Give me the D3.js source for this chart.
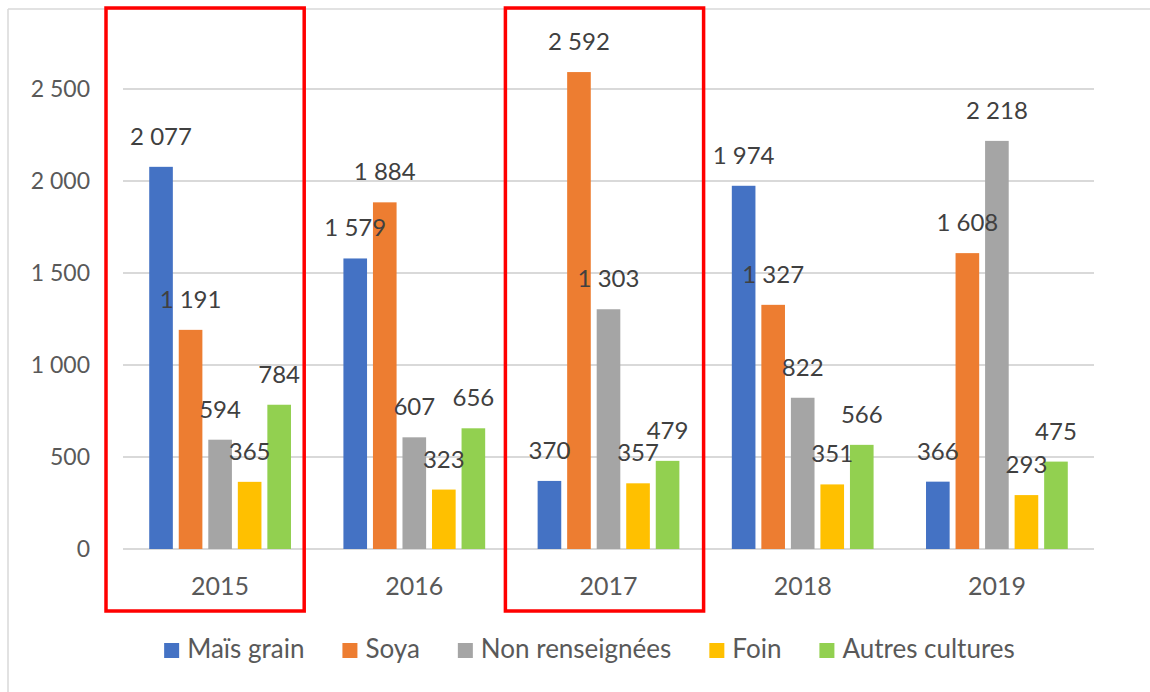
<!DOCTYPE html>
<html lang="fr">
<head>
<meta charset="utf-8">
<script src="https://cdn.jsdelivr.net/npm/d3@7"></script>
<style>
  html, body { margin: 0; padding: 0; background: #ffffff; }
  svg { display: block; font-family: Lato, "Open Sans", "Liberation Sans", sans-serif; }
</style>
</head>
<body>
<svg id="chart" width="1150" height="692"></svg>
<script>
// Superficies par culture et par année
const years = ["2015", "2016", "2017", "2018", "2019"];
const series = ["Maïs grain", "Soya", "Non renseignées", "Foin", "Autres cultures"];
const colors = ["#4472c4", "#ed7d31", "#a5a5a5", "#ffc000", "#92d050"];
const maisGrain = [2077, 1579, 370, 1974, 366];
const soya = [1191, 1884, 2592, 1327, 1608];
const nonRenseignees = [594, 607, 1303, 822, 2218];
const foin = [365, 323, 357, 351, 293];
const autresCultures = [784, 656, 479, 566, 475];
const yTicks = [0, 500, 1000, 1500, 2000, 2500];
const highlightedYears = ["2015", "2017"];

const values = [maisGrain, soya, nonRenseignees, foin, autresCultures];
const rows = [];
years.forEach((yr, i) => {
  series.forEach((s, j) => rows.push({ year: yr, series: s, value: values[j][i], color: colors[j] }));
});

const svg = d3.select("#chart");
const W = 1150, H = 692;
const plot = { left: 123, right: 1094, top: 89, bottom: 549 };

// outer frame (top and left edges only)
svg.append("line").attr("x1", 8).attr("x2", W).attr("y1", 9).attr("y2", 9)
  .attr("stroke", "#d9d9d9").attr("stroke-width", 1.5);
svg.append("line").attr("x1", 8).attr("x2", 8).attr("y1", 9).attr("y2", H)
  .attr("stroke", "#d9d9d9").attr("stroke-width", 1.5);

const x0 = d3.scaleBand().domain(years).range([plot.left, plot.right])
  .paddingInner(0.27).paddingOuter(0.135);
const x1 = d3.scaleBand().domain(series).range([0, x0.bandwidth()]).paddingInner(0.2);
const y = d3.scaleLinear().domain([0, 2500]).range([plot.bottom, plot.top]);

const fmt = v => d3.format(",")(v).replace(/,/g, " ");

// gridlines
svg.append("g").selectAll("line").data(yTicks).join("line")
  .attr("x1", plot.left).attr("x2", plot.right)
  .attr("y1", d => y(d)).attr("y2", d => y(d))
  .attr("stroke", "#d9d9d9").attr("stroke-width", 2);

// y axis labels
const yAxis = d3.axisLeft(y).tickValues(yTicks).tickFormat(fmt).tickSize(0).tickPadding(33);
const ya = svg.append("g").attr("transform", `translate(${plot.left},0)`).call(yAxis);
ya.select(".domain").remove();
ya.selectAll("text").attr("fill", "#595959").style("font-size", "23px")
  .style("font-family", "Lato, sans-serif");

// x axis labels
const xAxis = d3.axisBottom(x0).tickSize(0).tickPadding(28);
const xa = svg.append("g").attr("transform", `translate(0,${plot.bottom})`).call(xAxis);
xa.select(".domain").remove();
xa.selectAll("text").attr("fill", "#595959").style("font-size", "25px")
  .style("font-family", "Lato, sans-serif");

// bars
const bars = svg.append("g");
bars.selectAll("rect").data(rows).join("rect")
  .attr("x", d => x0(d.year) + x1(d.series))
  .attr("y", d => y(d.value))
  .attr("width", x1.bandwidth())
  .attr("height", d => y(0) - y(d.value))
  .attr("fill", d => d.color);

// value labels
svg.append("g").selectAll("text").data(rows).join("text")
  .attr("x", d => x0(d.year) + x1(d.series) + x1.bandwidth() / 2)
  .attr("y", d => y(d.value) - 22)
  .attr("text-anchor", "middle")
  .attr("fill", "#404040")
  .style("font-size", "24px")
  .text(d => fmt(d.value));

// red highlight frames
const step = x0.step();
svg.append("g").selectAll("rect").data(highlightedYears).join("rect")
  .attr("x", (d, i) => x0(d) + x0.bandwidth() / 2 - step / 2 - (i === 0 ? 17 : 6))
  .attr("y", 8)
  .attr("width", step + 4)
  .attr("height", 603)
  .attr("fill", "none")
  .attr("stroke", "#ff0000")
  .attr("stroke-width", 3.5);

// legend
const legend = svg.append("g").attr("transform", "translate(0,650)");
const items = legend.selectAll("g").data(series).join("g");
items.append("rect").attr("x", 0).attr("y", -7).attr("width", 15).attr("height", 15)
  .attr("fill", (d, i) => colors[i]);
items.append("text").attr("x", 23).attr("y", 8)
  .attr("fill", "#595959").style("font-size", "26px").text(d => d);
let widths = [];
items.each(function () { widths.push(this.getBBox().width); });
const gap = 38;
const total = d3.sum(widths) + gap * (widths.length - 1);
let cx = (plot.left + plot.right) / 2 - total / 2 - 19;
items.attr("transform", (d, i) => {
  const t = `translate(${cx},0)`;
  cx += widths[i] + gap;
  return t;
});
</script>
</body>
</html>
